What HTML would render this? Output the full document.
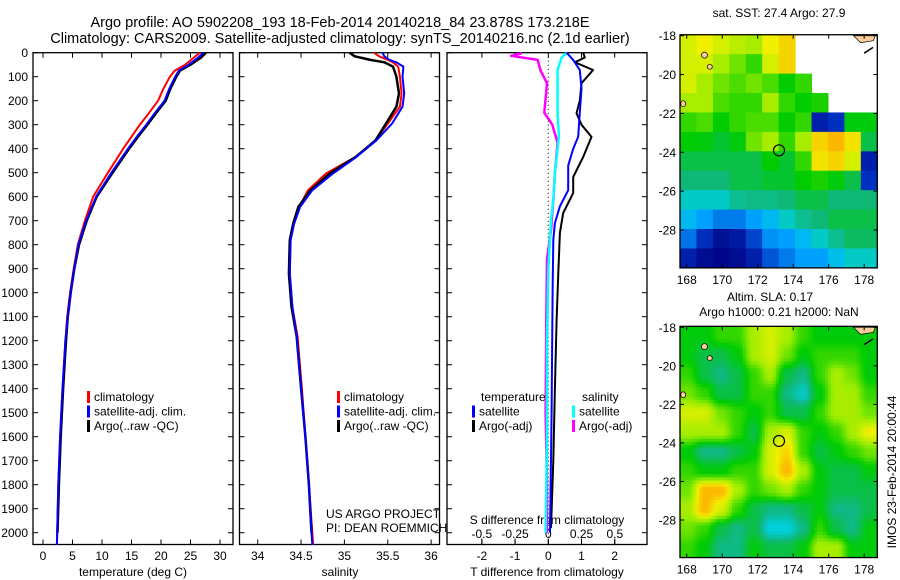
<!DOCTYPE html>
<html><head><meta charset="utf-8"><style>
body{margin:0;background:#fff;}
svg{display:block;font-family:"Liberation Sans",sans-serif;}
text{fill:#000;}
</style></head><body>
<svg id="fig" width="900" height="580" viewBox="0 0 900 580" xmlns="http://www.w3.org/2000/svg">
<rect width="900" height="580" fill="#fff"/>
<text x="340" y="27" font-size="14.5" text-anchor="middle">Argo profile: AO 5902208_193 18-Feb-2014 20140218_84 23.878S 173.218E</text>
<text x="340" y="43" font-size="14.5" text-anchor="middle">Climatology: CARS2009. Satellite-adjusted climatology: synTS_20140216.nc (2.1d earlier)</text>
<g id="g"></g>
</svg>
<script>
// ---- data ----
const tDepth=[0,20,50,75,100,150,200,250,300,350,400,450,500,600,700,800,900,1000,1100,1200,1400,1600,1800,2000,2050];
const tClim=[26.6,25.6,24.1,22.3,21.5,20.4,19.5,18.0,16.4,15.0,13.6,12.3,11.0,8.5,7.1,5.9,5.2,4.6,4.1,3.8,3.3,2.9,2.6,2.4,2.35];
const tSat=[27.2,26.3,24.7,23.0,22.4,21.4,20.6,19.0,17.5,15.9,14.4,13.0,11.6,9.0,7.3,6.0,5.3,4.7,4.2,3.8,3.3,2.9,2.6,2.4,2.35];
const tArgo=[27.6,26.8,25.0,23.2,22.6,21.6,20.8,19.2,17.7,16.1,14.6,13.2,11.8,9.1,7.4,6.1,5.3,4.7,4.2,3.9,3.4,3.0,2.7,2.45,null];
const sDepth=[0,15,30,40,58,100,170,225,295,365,434,503,573,642,712,781,920,1059,1183,1400,1600,1800,2000,2050];
const sClim=[35.34,35.40,35.50,35.56,35.62,35.64,35.66,35.64,35.50,35.36,35.13,34.79,34.58,34.48,34.42,34.38,34.37,34.40,34.46,34.51,34.55,34.59,34.63,34.64];
const sSat=[35.44,35.46,35.52,35.60,35.68,35.67,35.69,35.67,35.55,35.37,35.14,34.87,34.63,34.49,34.42,34.38,34.37,34.40,34.45,34.50,34.55,34.59,34.62,34.63];
const sArgo=[35.06,35.12,35.30,35.46,35.56,35.60,35.63,35.60,35.48,35.36,35.13,34.83,34.61,34.47,34.41,34.37,34.36,34.39,34.45,34.50,34.55,34.59,34.62,null];
const dtSatDepth=[0,30,72,150,250,350,400,470,573,640,710,780,1000,1500,2000];
const dtSat=[0.55,0.75,0.95,1.0,0.95,0.9,0.75,0.6,0.6,0.35,0.2,0.15,0.13,0.1,0.05];
const dtArgoDepth=[0,20,40,72,127,200,252,300,351,434,518,585,668,751,918,1114,1400,1700,1980];
const dtArgo=[1.05,1.1,0.8,1.35,1.0,0.95,0.85,1.0,1.3,1.05,0.75,0.75,0.45,0.35,0.3,0.25,0.2,0.15,0.08];
const dsSatDepth=[0,20,72,250,350,500,600,700,900,1200,1600,2000];
const dsSat=[0.14,0.1,0.07,0.07,0.08,0.05,0.04,0.02,0,-0.01,-0.01,-0.02];
const dsArgoDepth=[3,13,30,72,127,250,300,375,500,600,740,860,1110,1500,1800,2000];
const dsArgo=[-0.2,-0.28,-0.08,-0.06,-0.01,-0.03,0.03,0.07,0.05,0.04,0.02,-0.01,-0.015,-0.02,-0.01,-0.01];
const depthTicks=[0,100,200,300,400,500,600,700,800,900,1000,1100,1200,1300,1400,1500,1600,1700,1800,1900,2000];
const tTicks=[0,5,10,15,20,25,30];
const sTicks=[34,34.5,35,35.5,36];
const dtTicks=[-2,-1,0,1,2];
const dsTicks=[-0.5,-0.25,0,0.25,0.5];
const dsTickLabels=["-0.5","-0.25","0","0.25","0.5"];
const lonTicks=[168,170,172,174,176,178];
const latTicks=[-18,-20,-22,-24,-26,-28];
const floatLon=173.2, floatLat=-23.9;
const sstGrid=[
[.75,.78,.75,.72,.70,.78,.82,-1,-1,-1,-1,-1],
[.75,.75,.70,.65,.60,.75,.82,-1,-1,-1,-1,-1],
[.75,.70,.65,.62,.65,.62,.56,.60,-1,-1,-1,-1],
[.70,.70,.62,.60,.60,.70,.60,.56,.58,-1,-1,-1],
[.60,.62,.56,.60,.62,.62,.56,.60,.10,.15,.55,.55],
[.56,.55,.52,.55,.65,.70,.60,.70,.82,.86,.80,.50],
[.50,.50,.50,.50,.50,.56,.52,.60,.80,.82,.75,.10],
[.46,.46,.46,.50,.50,.52,.52,.56,.58,.55,.50,.15],
[.40,.40,.40,.44,.45,.45,.46,.50,.50,.46,.46,.46],
[.34,.30,.25,.25,.30,.34,.40,.44,.46,.50,.50,.50],
[.24,.14,.05,.08,.18,.28,.30,.34,.40,.44,.48,.48],
[.10,.04,.02,.04,.10,.20,.25,.30,.30,.35,.40,.40]];
const slaGrid=[
[.55,.55,.60,.60,.70,.75,.70,.60,.55,.55,.55,.55],
[.55,.50,.50,.55,.70,.75,.65,.55,.60,.60,.60,.55],
[.60,.50,.45,.50,.60,.70,.50,.45,.60,.70,.65,.55],
[.65,.60,.50,.50,.60,.60,.45,.40,.55,.70,.70,.60],
[.75,.75,.65,.60,.55,.60,.50,.50,.60,.70,.70,.65],
[.70,.70,.70,.60,.50,.70,.75,.60,.55,.60,.70,.78],
[.55,.45,.45,.50,.55,.75,.82,.60,.50,.55,.60,.65],
[.60,.55,.55,.60,.60,.75,.86,.70,.55,.50,.50,.55],
[.65,.86,.86,.70,.60,.65,.70,.60,.55,.50,.50,.50],
[.70,.86,.75,.60,.50,.45,.45,.50,.55,.45,.45,.50],
[.65,.60,.50,.45,.50,.38,.38,.45,.60,.50,.45,.55],
[.60,.55,.45,.45,.55,.50,.50,.55,.70,.70,.55,.55]];

const NS="http://www.w3.org/2000/svg";
const G=document.getElementById('g');
function el(tag,attrs,parent){const e=document.createElementNS(NS,tag);for(const k in attrs)e.setAttribute(k,attrs[k]);(parent||G).appendChild(e);return e;}
function txt(s,x,y,size,anchor,name){const t=el('text',{x:x,y:y,'font-size':size,'text-anchor':anchor||'start'});t.textContent=s;


return t;}

const pTop=52.7,pBot=544.5,dpx=0.24;
const yD=d=>pTop+d*dpx;
const panels=[{x0:33,x1:233},{x0:239.5,x1:439.5},{x0:447,x1:647}];
const xT=t=>43+t*5.9;
const xS=s=>257.7+(s-34)*86.7;
const xDT=t=>548.3+t*33.2;
const xDS=s=>548.3+s*133;

function line(xs,ds,xf,color,w,name){
  let p='';let pen=false;
  for(let i=0;i<xs.length;i++){ if(xs[i]===null){pen=false;continue;} p+=(pen?'L':'M')+xf(xs[i]).toFixed(1)+','+yD(ds[i]).toFixed(1); pen=true;}
  const e=el('path',{d:p,fill:'none',stroke:color,'stroke-width':w,'stroke-linejoin':'round'});
  
  
}

panels.forEach((p,i)=>{
  const r=el('rect',{x:p.x0,y:pTop,width:p.x1-p.x0,height:pBot-pTop,fill:'none',stroke:'#000','stroke-width':1.3});
  
  
  depthTicks.forEach(d=>{
    el('line',{x1:p.x0,x2:p.x0+5,y1:yD(d),y2:yD(d),stroke:'#000'});
    el('line',{x1:p.x1,x2:p.x1-5,y1:yD(d),y2:yD(d),stroke:'#000'});
  });
});
depthTicks.forEach(d=>txt(String(d),28,yD(d)+4.5,12,'end','depth-tick-label'));
function xticks(vals,labels,f,ly,name){
  vals.forEach((v,i)=>{const x=f(v);
    el('line',{x1:x,x2:x,y1:pBot,y2:pBot-5,stroke:'#000'});
    el('line',{x1:x,x2:x,y1:pTop,y2:pTop+5,stroke:'#000'});
    txt(labels[i],x,ly,12,'middle',name);});
}
xticks(tTicks,tTicks.map(String),xT,560,'temperature-tick-label');
xticks(sTicks,sTicks.map(String),xS,560,'salinity-tick-label');
xticks(dtTicks,dtTicks.map(String),xDT,560,'t-diff-tick-label');
dsTicks.forEach((v,i)=>{const x=xDS(v);el('line',{x1:x,x2:x,y1:pBot,y2:pBot-6,stroke:'#000'});txt(dsTickLabels[i],x,538,12,'middle','s-diff-tick-label');});
txt('temperature (deg C)',133,576,12,'middle','temperature-axis-title');
txt('salinity',340,576,12,'middle','salinity-axis-title');
txt('T difference from climatology',547,576,12,'middle','t-diff-axis-title');
txt('S difference from climatology',547,524,12,'middle','s-diff-axis-title');
el('line',{x1:xDT(0),x2:xDT(0),y1:pTop,y2:pBot,stroke:'#000','stroke-dasharray':'1,3'});

line(tClim,tDepth,xT,'#f00',2,'temperature-climatology-line');
line(tArgo,tDepth,xT,'#000',2.5,'temperature-argo-line');
line(tSat,tDepth,xT,'#00f',2,'temperature-satellite-line');
line(sClim,sDepth,xS,'#f00',2,'salinity-climatology-line');
line(sArgo,sDepth,xS,'#000',2.5,'salinity-argo-line');
line(sSat,sDepth,xS,'#00f',2,'salinity-satellite-line');
line(dsArgo,dsArgoDepth,xDS,'#f0f',2.5,'s-diff-argo-line');
line(dsSat,dsSatDepth,xDS,'#0ff',2.5,'s-diff-satellite-line');
line(dtArgo,dtArgoDepth,xDT,'#000',2,'t-diff-argo-line');
line(dtSat,dtSatDepth,xDT,'#00f',2,'t-diff-satellite-line');

function legend(x,items,name){
  items.forEach((it,i)=>{const y=401+i*14.5;
    if(it[1]){el('rect',{x:x,y:y-10,width:3,height:12,fill:it[1]});}
    txt(it[0],x+7,y,12,'start',name);});
}
const lg=[['climatology','#f00'],['satellite-adj. clim.','#00f'],['Argo(..raw -QC)','#000']];
legend(87,lg,'legend-entry');
legend(337,lg,'legend-entry');
txt('temperature',481,401,12,'start','legend-header');
legend(472,[[' ',null],['satellite','#00f'],['Argo(-adj)','#000']],'legend-entry');
txt('salinity',582,401,12,'start','legend-header');
legend(572,[[' ',null],['satellite','#0ff'],['Argo(-adj)','#f0f']],'legend-entry');
txt('US ARGO PROJECT',326,518,12,'start','project-credit');
txt('PI: DEAN ROEMMICH',326,532,12,'start','pi-credit');

const stops=[[0,[0,0,128]],[0.15,[0,48,192]],[0.3,[0,160,255]],[0.38,[0,208,224]],[0.46,[16,184,120]],[0.56,[0,204,0]],[0.68,[150,236,0]],[0.78,[240,240,0]],[0.88,[255,170,0]],[1,[255,64,0]]];
function cmap(v){for(let i=1;i<stops.length;i++){if(v<=stops[i][0]){const a=stops[i-1],b=stops[i],f=(v-a[0])/(b[0]-a[0]);const c=a[1].map((q,k)=>Math.round(q+(b[1][k]-q)*f));return 'rgb('+c.join(',')+')';}}return 'rgb(255,64,0)';}
const mx0=680,mx1=877.3,lon0=167.62,lon1=178.74;
const mLon=lon=>mx0+(lon-lon0)*(mx1-mx0)/(lon1-lon0);
function drawMap(grid,y18,pxDeg,smooth,name){
  const latF=lat=>y18+(-18-lat)*pxDeg;
  const yTop=latF(-17.95),yBot=latF(-29.95);
  const rows=grid.length,cols=grid[0].length;
  const cw=(mx1-mx0)/cols,ch=(yBot-yTop)/rows;
  const g=el('g',{});
  
  
  if(!smooth){
    for(let r=0;r<rows;r++)for(let c=0;c<cols;c++){const v=grid[r][c];if(v<0)continue;
      el('rect',{x:(mx0+c*cw).toFixed(2),y:(yTop+r*ch).toFixed(2),width:(cw+0.5).toFixed(2),height:(ch+0.5).toFixed(2),fill:cmap(v)},g);}
  } else {
    const n=6;
    for(let r=0;r<rows*n;r++)for(let c=0;c<cols*n;c++){
      const fr=Math.min(Math.max((r+0.5)/n-0.5,0),rows-1),fc=Math.min(Math.max((c+0.5)/n-0.5,0),cols-1);
      const r0=Math.floor(fr),c0=Math.floor(fc),r1=Math.min(r0+1,rows-1),c1=Math.min(c0+1,cols-1);
      let a=fr-r0,b=fc-c0; a=a*a*(3-2*a); b=b*b*(3-2*b);
      const v=grid[r0][c0]*(1-a)*(1-b)+grid[r0][c1]*(1-a)*b+grid[r1][c0]*a*(1-b)+grid[r1][c1]*a*b;
      el('rect',{x:(mx0+c*cw/n).toFixed(2),y:(yTop+r*ch/n).toFixed(2),width:(cw/n+0.4).toFixed(2),height:(ch/n+0.4).toFixed(2),fill:cmap(v)},g);}
  }
  el('path',{d:`M${mLon(177.4)},${yTop+1} L${mx1-2},${yTop+1} L${mx1-4},${yTop+6} L${mLon(177.8)},${yTop+8} Z`,fill:'#fc9',stroke:'#000','stroke-width':0.7});
  el('ellipse',{cx:mLon(169),cy:latF(-19),rx:3,ry:3,fill:'#fc9',stroke:'#000','stroke-width':0.7});
  el('ellipse',{cx:mLon(169.3),cy:latF(-19.6),rx:2.5,ry:2.5,fill:'#fc9',stroke:'#000','stroke-width':0.7});
  el('ellipse',{cx:mLon(167.8),cy:latF(-21.5),rx:2.5,ry:3,fill:'#fc9',stroke:'#000','stroke-width':0.7});
  el('path',{d:`M${mLon(178.0)},${latF(-18.9)} L${mLon(178.5)},${latF(-18.6)}`,stroke:'#000','stroke-width':1.5});
  const fr=el('rect',{x:mx0,y:yTop,width:mx1-mx0,height:yBot-yTop,fill:'none',stroke:'#000','stroke-width':1.3});
  
  
  lonTicks.forEach(l=>{const x=mLon(l);el('line',{x1:x,x2:x,y1:yTop,y2:yTop+4,stroke:'#000'});el('line',{x1:x,x2:x,y1:yBot,y2:yBot-4,stroke:'#000'});txt(String(l),x,yBot+16,12,'middle','longitude-tick-label');});
  latTicks.forEach(l=>{const y=latF(l);el('line',{x1:mx0,x2:mx0+4,y1:y,y2:y,stroke:'#000'});el('line',{x1:mx1,x2:mx1-4,y1:y,y2:y,stroke:'#000'});txt(String(l),676,y+4.5,12,'end','latitude-tick-label');});
  const m=el('circle',{cx:mLon(floatLon),cy:latF(floatLat),r:5.5,fill:'none',stroke:'#000','stroke-width':1.2});
  
  
}
drawMap(sstGrid,35.7,19.43,false,'sst-map');
drawMap(slaGrid,327.3,19.27,true,'sla-map');
txt('sat. SST: 27.4 Argo: 27.9',779,17,12,'middle','sst-map-title');
txt('Altim. SLA: 0.17',770,301,12,'middle','sla-map-title');
txt('Argo h1000: 0.21 h2000: NaN',779,316,12,'middle','sla-map-subtitle');
const v=txt('IMOS 23-Feb-2014 20:00:44',0,0,12,'middle','timestamp-label');
v.setAttribute('transform','translate(896,472) rotate(-90)');
</script>
</body></html>
